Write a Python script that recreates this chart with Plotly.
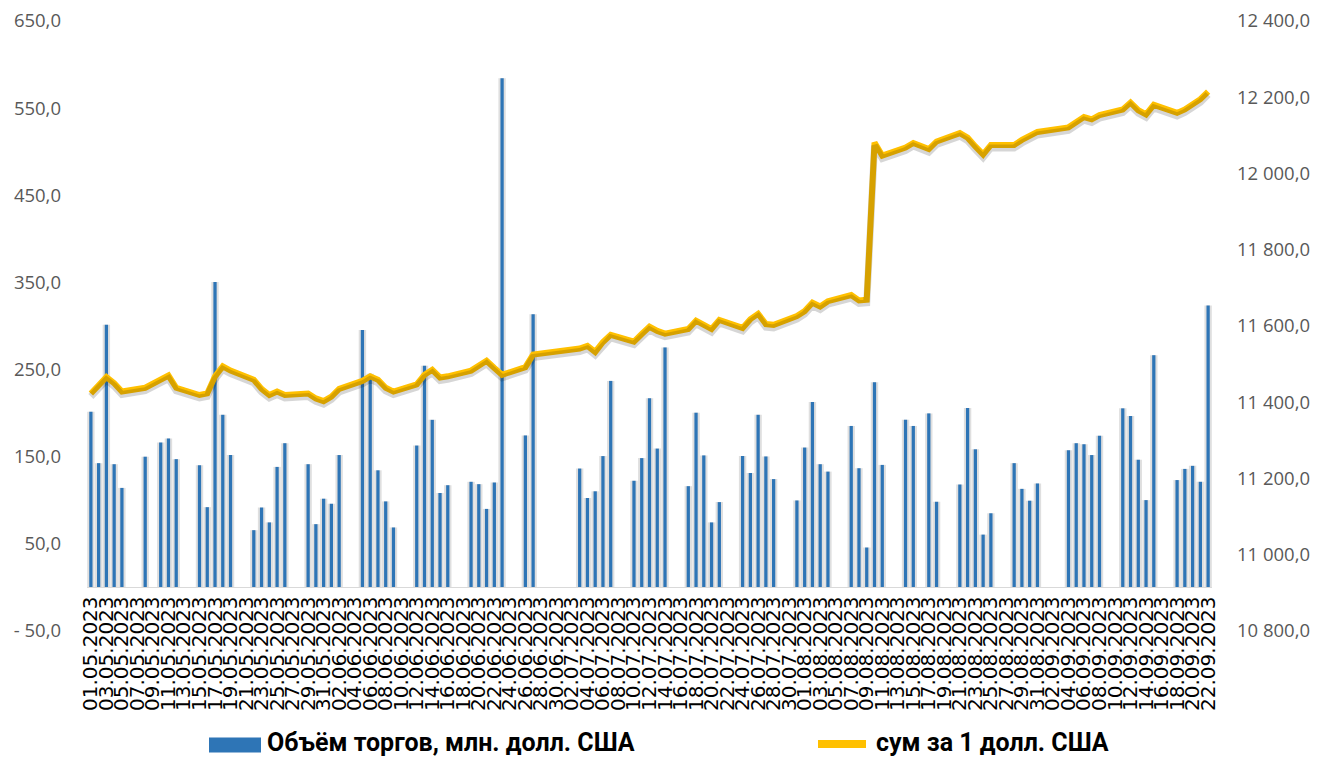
import pandas as pd
import plotly.graph_objects as go

# ---------------- data ----------------
trading_days = [
    "01.05.2023", "02.05.2023", "03.05.2023", "04.05.2023", "05.05.2023",
    "08.05.2023", "10.05.2023", "11.05.2023", "12.05.2023",
    "15.05.2023", "16.05.2023", "17.05.2023", "18.05.2023", "19.05.2023",
    "22.05.2023", "23.05.2023", "24.05.2023", "25.05.2023", "26.05.2023",
    "29.05.2023", "30.05.2023", "31.05.2023", "01.06.2023", "02.06.2023",
    "05.06.2023", "06.06.2023", "07.06.2023", "08.06.2023", "09.06.2023",
    "12.06.2023", "13.06.2023", "14.06.2023", "15.06.2023", "16.06.2023",
    "19.06.2023", "20.06.2023", "21.06.2023", "22.06.2023", "23.06.2023",
    "26.06.2023", "27.06.2023",
    "03.07.2023", "04.07.2023", "05.07.2023", "06.07.2023", "07.07.2023",
    "10.07.2023", "11.07.2023", "12.07.2023", "13.07.2023", "14.07.2023",
    "17.07.2023", "18.07.2023", "19.07.2023", "20.07.2023", "21.07.2023",
    "24.07.2023", "25.07.2023", "26.07.2023", "27.07.2023", "28.07.2023",
    "31.07.2023", "01.08.2023", "02.08.2023", "03.08.2023", "04.08.2023",
    "07.08.2023", "08.08.2023", "09.08.2023", "10.08.2023", "11.08.2023",
    "14.08.2023", "15.08.2023", "17.08.2023", "18.08.2023",
    "21.08.2023", "22.08.2023", "23.08.2023", "24.08.2023", "25.08.2023",
    "28.08.2023", "29.08.2023", "30.08.2023", "31.08.2023",
    "04.09.2023", "05.09.2023", "06.09.2023", "07.09.2023", "08.09.2023",
    "11.09.2023", "12.09.2023", "13.09.2023", "14.09.2023", "15.09.2023",
    "18.09.2023", "19.09.2023", "20.09.2023", "21.09.2023", "22.09.2023",
]

volume = [
    201.6, 142.6, 301.5, 141.4, 114.2,
    150.0, 166.3, 170.9, 147.2,
    140.2, 92.1, 350.4, 198.1, 151.9,
    65.7, 91.7, 74.6, 138.3, 165.5,
    141.4, 72.6, 101.8, 96.0, 151.9,
    295.3, 245.1, 134.4, 98.7, 68.8,
    162.8, 254.5, 192.3, 108.4, 117.3,
    121.2, 118.5, 90.1, 120.4, 584.3,
    174.4, 313.5,
    136.4, 102.6, 110.3, 150.7, 237.0,
    122.4, 148.4, 217.2, 159.3, 275.4,
    116.2, 200.5, 151.5, 74.6, 97.9,
    150.7, 131.3, 198.1, 150.3, 124.3,
    99.8, 160.5, 212.9, 141.4, 132.9,
    185.3, 136.8, 45.8, 235.4, 140.6,
    192.3, 185.3, 199.7, 98.3,
    118.1, 205.9, 158.5, 60.6, 85.1,
    142.6, 113.1, 99.5, 119.3,
    157.3, 165.5, 164.3, 151.9, 174.0,
    205.5, 196.6, 146.5, 100.2, 266.5,
    123.2, 136.0, 139.5, 121.2, 323.6,
]

rate = [
    11423, 11444, 11466, 11450, 11428,
    11438, 11459, 11470, 11438,
    11419, 11423, 11468, 11494, 11483,
    11459, 11435, 11419, 11428, 11419,
    11423, 11410, 11403, 11415, 11435,
    11456, 11468, 11459, 11438, 11428,
    11447, 11472, 11485, 11465, 11468,
    11483, 11496, 11509, 11490, 11472,
    11492, 11525,
    11541, 11548, 11532, 11558, 11577,
    11559, 11579, 11598, 11587, 11580,
    11592, 11614, 11603, 11592, 11616,
    11595, 11618, 11632, 11605, 11603,
    11626, 11639, 11661, 11651, 11665,
    11681, 11667, 11669, 12081, 12047,
    12068, 12080, 12064, 12084,
    12106, 12094, 12071, 12050, 12075,
    12075, 12088, 12097, 12109,
    12121, 12133, 12148, 12142, 12153,
    12168, 12186, 12166, 12155, 12180,
    12159, 12168, 12180, 12195, 12215,
]

left_ticks = [-50, 50, 150, 250, 350, 450, 550, 650]
left_labels = ["- 50,0", "50,0", "150,0", "250,0", "350,0", "450,0", "550,0", "650,0"]
right_ticks = [10800, 11000, 11200, 11400, 11600, 11800, 12000, 12200, 12400]
right_labels = ["10 800,0", "11 000,0", "11 200,0", "11 400,0", "11 600,0",
                "11 800,0", "12 000,0", "12 200,0", "12 400,0"]

series_names = ["Объём торгов, млн. долл. США", "сум за 1 долл. США"]

# ---------------- styling ----------------
BAR_COLOR = "#2E75B6"
LINE_COLOR = "#FFC000"
TICK_COLOR = "#595959"
DAY = 86400000

OFF = 8                     # page body margin of the html page
W, H = 1320 - OFF, 757 - OFF
# plot area in page pixels: x 87..1212, y 21..631
PL, PR, PT, PB = 87, 1212, 21, 631
ML = PL - OFF
MT = PT - OFF
MR = W - (PR - OFF)
MB = H - (PB - OFF)
PW, PH = PR - PL, PB - PT

x = pd.to_datetime(trading_days, format="%d.%m.%Y")
x_start = x[0] - pd.Timedelta(hours=12)
x_end = x[-1] + pd.Timedelta(hours=12)

y_left_range = [left_ticks[0], left_ticks[-1]]
y_right_range = [right_ticks[0], right_ticks[-1]]
zero_pos = (0 - y_left_range[0]) / (y_left_range[1] - y_left_range[0])

# shadow offset of the line (pixels -> data units)
shadow_px = 3
shadow_units = shadow_px * (y_right_range[1] - y_right_range[0]) / PH


def px_x(px):
    """page pixel x -> paper fraction"""
    return (px - PL) / PW


def px_y(py):
    """page pixel y -> paper fraction"""
    return (PB - py) / PH


fig = go.Figure()

# soft shadow behind the bars
fig.add_trace(go.Bar(
    x=x, y=volume, width=0.95 * DAY,
    marker=dict(color="rgba(140,140,140,0.28)", line=dict(width=0)),
    hoverinfo="skip", showlegend=False, yaxis="y",
))
# volume bars
fig.add_trace(go.Bar(
    x=x, y=volume, width=0.42 * DAY, name=series_names[0],
    marker=dict(color=BAR_COLOR, line=dict(width=0)),
    showlegend=False, yaxis="y",
))
# line shadow
fig.add_trace(go.Scatter(
    x=x, y=rate, mode="lines",
    line=dict(color="rgba(0,0,0,0.16)", width=7),
    hoverinfo="skip", showlegend=False, yaxis="y3",
))
# exchange-rate line
fig.add_trace(go.Scatter(
    x=x, y=rate, mode="lines", name=series_names[1],
    line=dict(color=LINE_COLOR, width=6),
    showlegend=False, yaxis="y2",
))

tick_font = dict(family="Open Sans", size=18.5, color=TICK_COLOR)

fig.update_layout(
    width=W, height=H,
    margin=dict(l=ML, r=MR, t=MT, b=MB, pad=0, autoexpand=False),
    paper_bgcolor="white", plot_bgcolor="white",
    barmode="overlay",
    showlegend=False,
    xaxis=dict(
        type="date", range=[x_start, x_end],
        anchor="free", position=zero_pos,
        showline=True, linecolor="#D9D9D9", linewidth=1,
        showgrid=False, zeroline=False, ticks="",
        tickmode="linear", tick0=x[0], dtick=2 * DAY,
        tickformat="%d.%m.%Y", tickangle=-90,
        tickfont=dict(family="DejaVu Sans", size=20, color="#000000"),
        ticklabeloverflow="allow",
    ),
    yaxis=dict(
        range=y_left_range, tickmode="array",
        tickvals=left_ticks, ticktext=left_labels,
        showgrid=False, zeroline=False, showline=False, ticks="",
        tickfont=tick_font, ticklabelstandoff=25,
        ticklabeloverflow="allow",
    ),
    yaxis2=dict(
        range=y_right_range, overlaying="y", side="right",
        tickmode="array", tickvals=right_ticks, ticktext=right_labels,
        showgrid=False, zeroline=False, showline=False, ticks="",
        tickfont=tick_font, ticklabelstandoff=24,
        ticklabeloverflow="allow",
    ),
    yaxis3=dict(
        range=[y_right_range[0] + shadow_units, y_right_range[1] + shadow_units],
        overlaying="y", visible=False,
    ),
)

# custom legend (positions in page pixels)
legend_y = px_y(742)
fig.add_shape(type="rect", xref="paper", yref="paper",
              x0=px_x(209), x1=px_x(261), y0=px_y(752.5), y1=px_y(737.5),
              fillcolor=BAR_COLOR, line=dict(width=0))
fig.add_shape(type="line", xref="paper", yref="paper",
              x0=px_x(818), x1=px_x(866), y0=px_y(744), y1=px_y(744),
              line=dict(color=LINE_COLOR, width=8))
legend_font = dict(family="Roboto", size=25, color="#000000", weight="bold")
fig.add_annotation(x=px_x(265), y=legend_y, xref="paper", yref="paper",
                   text=series_names[0], showarrow=False,
                   xanchor="left", yanchor="middle", font=legend_font)
fig.add_annotation(x=px_x(874), y=legend_y, xref="paper", yref="paper",
                   text=series_names[1], showarrow=False,
                   xanchor="left", yanchor="middle", font=legend_font)

fig.write_html("out.html")
